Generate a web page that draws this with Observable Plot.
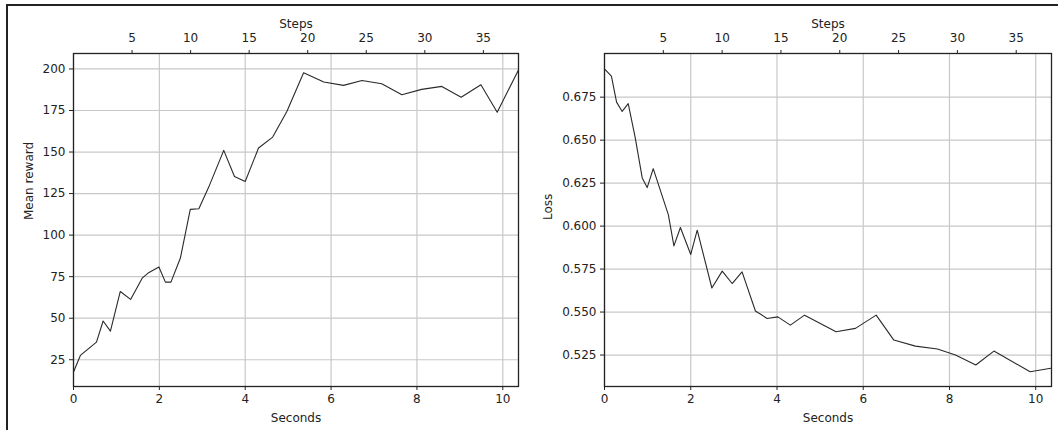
<!DOCTYPE html>
<html>
<head>
<meta charset="utf-8">
<script src="https://cdn.jsdelivr.net/npm/d3@7"></script>
<script src="https://cdn.jsdelivr.net/npm/@observablehq/plot@0.6"></script>
<style>
  html, body { margin: 0; padding: 0; background: #fff; }
  #wrap { position: relative; width: 1058px; height: 430px; overflow: hidden; background: #fff; }
  #wrap svg { position: absolute; top: 0; }
  #border { position: absolute; left: 6px; top: 4px; right: -10px; bottom: -10px;
            border-left: 2px solid #222; border-top: 2px solid #222; pointer-events: none; }
</style>
</head>
<body>
<div id="wrap"></div>
<script>
// ---- data ----
const rewardSeconds = [0, 0.16, 0.535, 0.69, 0.86, 1.09, 1.33, 1.60, 1.75, 1.99, 2.14, 2.27, 2.49, 2.72, 2.92, 3.15, 3.50, 3.75, 4.00, 4.31, 4.64, 4.97, 5.36, 5.83, 6.29, 6.72, 7.18, 7.65, 8.11, 8.58, 9.03, 9.49, 9.87, 10.36];
const rewardValues  = [17.6, 27.6, 35.6, 48.3, 42.2, 66.1, 61.3, 74.1, 77.4, 80.8, 71.7, 71.7, 86.2, 115.5, 115.9, 128.9, 151.0, 135.3, 132.3, 152.4, 159.0, 174.4, 197.7, 192.1, 190.1, 193.1, 191.1, 184.5, 187.7, 189.5, 183.0, 190.5, 174.0, 199.1];

const lossSeconds = [0.01, 0.16, 0.28, 0.41, 0.55, 0.71, 0.875, 0.99, 1.13, 1.48, 1.61, 1.76, 2.00, 2.15, 2.49, 2.73, 2.96, 3.19, 3.50, 3.77, 4.02, 4.31, 4.64, 5.37, 5.82, 6.30, 6.71, 7.21, 7.72, 8.14, 8.61, 9.03, 9.87, 10.35];
const lossValues  = [0.6911, 0.6872, 0.6721, 0.6667, 0.6712, 0.6518, 0.6280, 0.6224, 0.6334, 0.6067, 0.5885, 0.5992, 0.5835, 0.5976, 0.5640, 0.5738, 0.5666, 0.5734, 0.5506, 0.5463, 0.5472, 0.5424, 0.5482, 0.5385, 0.5405, 0.5482, 0.5337, 0.5302, 0.5285, 0.5250, 0.5192, 0.5273, 0.5153, 0.5173];

const secondsTicks = [0, 2, 4, 6, 8, 10];
const stepTicks = [5, 10, 15, 20, 25, 30, 35];
const secondsDomain = [0, 10.366];
const stepsDomain = [0, 38];
const rewardTicks = [25, 50, 75, 100, 125, 150, 175, 200];
const rewardDomain = [8.9, 209.3];
const lossTicks = [0.525, 0.550, 0.575, 0.600, 0.625, 0.650, 0.675];
const lossDomain = [0.5067, 0.7004];

const secPerStep = secondsDomain[1] / stepsDomain[1];
const rewardData = rewardSeconds.map((s, i) => ({s, v: rewardValues[i]}));
const lossData = lossSeconds.map((s, i) => ({s, v: lossValues[i]}));

function panel({data, yDomain, yTicks, yFormat, yLabel, yLabelDx, marginLeft, marginRight}) {
  return Plot.plot({
    width: 529,
    height: 430,
    marginLeft, marginRight,
    marginTop: 53,
    marginBottom: 44,
    style: {fontFamily: "DejaVu Sans, sans-serif", fontSize: "12px", color: "#222", background: "transparent", overflow: "visible"},
    x: {domain: secondsDomain},
    y: {domain: yDomain},
    marks: [
      Plot.gridX(secondsTicks, {stroke: "#c8c8c8", strokeOpacity: 1, strokeWidth: 1.2}),
      Plot.gridY(yTicks, {stroke: "#c8c8c8", strokeOpacity: 1, strokeWidth: 1.2}),
      Plot.axisX(secondsTicks, {anchor: "bottom", label: null, tickSize: 4, tickPadding: 4, stroke: "#222", fill: "#222"}),
      Plot.axisX(stepTicks.map(t => t * secPerStep), {anchor: "top", label: null, tickSize: 4, tickPadding: 8, stroke: "#222", fill: "#222", tickFormat: d => String(Math.round(d / secPerStep))}),
      Plot.axisY(yTicks, {anchor: "left", label: null, tickSize: 4, tickPadding: 4, stroke: "#222", fill: "#222", tickFormat: yFormat}),
      Plot.line(data, {x: "s", y: "v", stroke: "#2a2a2a", strokeWidth: 1.1}),
      Plot.frame({stroke: "#222", strokeWidth: 1.3}),
      Plot.text(["Seconds"], {text: d => d, frameAnchor: "bottom", lineAnchor: "middle", dy: 32, fill: "#222", fontSize: 12}),
      Plot.text(["Steps"], {text: d => d, frameAnchor: "top", lineAnchor: "middle", dy: -29, fill: "#222", fontSize: 12}),
      Plot.text([yLabel], {text: d => d, frameAnchor: "left", lineAnchor: "middle", dx: yLabelDx, rotate: -90, fill: "#222", fontSize: 12})
    ]
  });
}

const left = panel({
  data: rewardData, yDomain: rewardDomain, yTicks: rewardTicks,
  yFormat: d => String(d), yLabel: "Mean reward", yLabelDx: -44,
  marginLeft: 73, marginRight: 11
});
left.style.left = "0px";

const right = panel({
  data: lossData, yDomain: lossDomain, yTicks: lossTicks,
  yFormat: d => d.toFixed(3), yLabel: "Loss", yLabelDx: -56,
  marginLeft: 75, marginRight: 7
});
right.style.left = "529px";

const wrap = document.getElementById("wrap");
wrap.appendChild(left);
wrap.appendChild(right);
const b = document.createElement("div");
b.id = "border";
wrap.appendChild(b);
</script>
</body>
</html>
